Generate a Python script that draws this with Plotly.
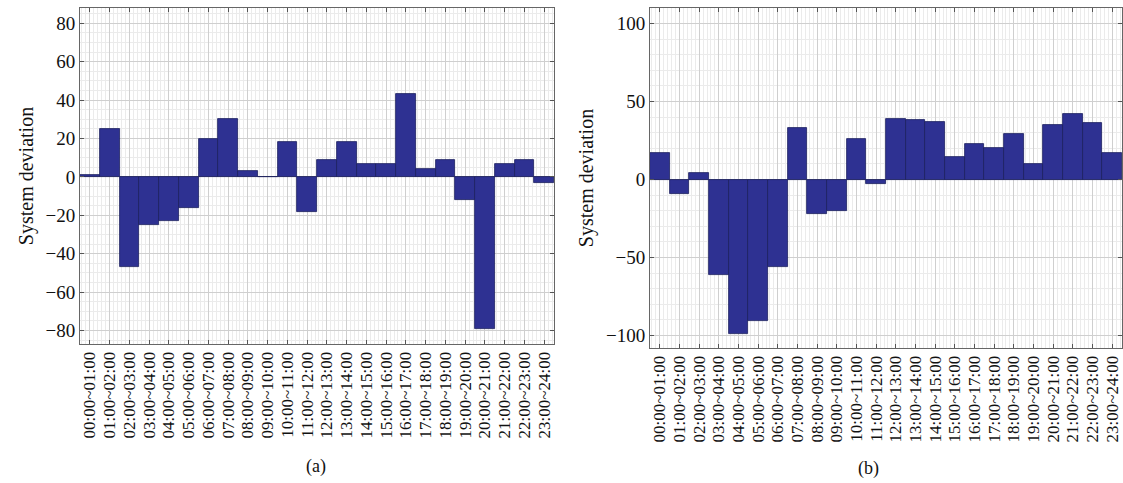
import plotly.graph_objects as go

# Hourly intervals shared by both panels
periods = [f"{h:02d}:00~{h + 1:02d}:00" for h in range(24)]

# System deviation per hour, panel (a)
deviation_a = [1, 25, -47, -25, -23, -16, 20, 30, 3, 0, 18, -18,
               9, 18, 7, 7, 43, 4, 9, -12, -79, 7, 9, -3]

# System deviation per hour, panel (b)
deviation_b = [17, -9, 4.5, -61, -99, -91, -56, 33, -22, -20, 26, -3,
               39, 38, 37, 14.5, 23, 20, 29, 10, 35, 42, 36, 17]

BAR_FILL = "#2e3192"
BAR_EDGE = "#1c1f5e"
FONT = "Liberation Serif"

positions = list(range(len(periods)))

fig = go.Figure()
fig.add_trace(go.Bar(x=positions, y=deviation_a, width=1.0,
                     marker=dict(color=BAR_FILL, line=dict(color=BAR_EDGE, width=0.8)),
                     xaxis="x", yaxis="y", showlegend=False))
fig.add_trace(go.Bar(x=positions, y=deviation_b, width=1.0,
                     marker=dict(color=BAR_FILL, line=dict(color=BAR_EDGE, width=0.8)),
                     xaxis="x2", yaxis="y2", showlegend=False))

W, H = 1123, 483


def xaxis_cfg(left_px, right_px, anchor):
    return dict(
        domain=[left_px / W, right_px / W], anchor=anchor,
        range=[-0.5, len(periods) - 0.5],
        tickmode="array", tickvals=positions, ticktext=periods,
        tickangle=-90, ticks="inside", ticklen=4, tickcolor="#555",
        tickfont=dict(family=FONT, size=17, color="#111"),
        showline=True, linecolor="#666", linewidth=1, mirror="ticks",
        showgrid=True, gridcolor="#cfcfcf", gridwidth=1,
        minor=dict(dtick=0.2, tick0=0, showgrid=True, gridcolor="#ebebeb", gridwidth=1),
        zeroline=False,
    )


def yaxis_cfg(top_px, bottom_px, anchor, rng, major, minor):
    return dict(
        domain=[1 - bottom_px / H, 1 - top_px / H], anchor=anchor,
        range=rng, dtick=major, tick0=0,
        ticks="inside", ticklen=4, tickcolor="#555",
        tickfont=dict(family=FONT, size=19, color="#111"),
        showline=True, linecolor="#666", linewidth=1, mirror="ticks",
        showgrid=True, gridcolor="#cfcfcf", gridwidth=1,
        minor=dict(dtick=minor, tick0=0, showgrid=True, gridcolor="#ebebeb", gridwidth=1),
        zeroline=True, zerolinecolor="#888", zerolinewidth=1,
        title=dict(text="System deviation", font=dict(family=FONT, size=20, color="#111"),
                   standoff=6),
    )


fig.update_layout(
    width=W, height=H,
    margin=dict(l=0, r=0, t=0, b=0),
    paper_bgcolor="white", plot_bgcolor="white",
    bargap=0,
    xaxis=xaxis_cfg(80, 554, "y"),
    yaxis=yaxis_cfg(8, 344, "x", [-87, 88], 20, 5),
    xaxis2=xaxis_cfg(650, 1122, "y2"),
    yaxis2=yaxis_cfg(8, 348, "x2", [-108, 110], 50, 10),
    annotations=[
        dict(text="(a)", x=316 / W, y=1 - 466 / H, xref="paper", yref="paper",
             xanchor="center", yanchor="middle", showarrow=False,
             font=dict(family=FONT, size=18, color="#111")),
        dict(text="(b)", x=868 / W, y=1 - 468 / H, xref="paper", yref="paper",
             xanchor="center", yanchor="middle", showarrow=False,
             font=dict(family=FONT, size=18, color="#111")),
    ],
)

fig.write_html("out.html")
